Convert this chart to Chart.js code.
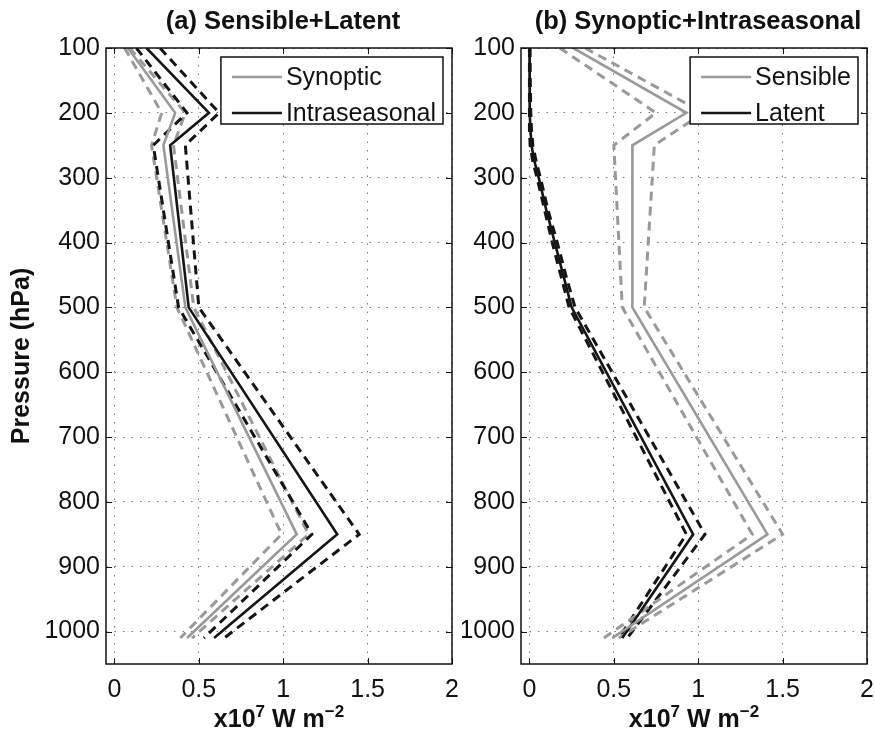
<!DOCTYPE html>
<html>
<head>
<meta charset="utf-8">
<script src="https://cdn.jsdelivr.net/npm/chart.js@4.4.0/dist/chart.umd.min.js"></script>
<style>
  html, body { margin: 0; padding: 0; background: #fff; }
  #wrap { position: relative; width: 875px; height: 732px; }
  #chart-a { position: absolute; left: 0; top: 0; }
  #chart-b { position: absolute; left: 462px; top: 0; }
</style>
</head>
<body>
<div id="wrap">
  <canvas id="chart-a" width="462" height="732"></canvas>
  <canvas id="chart-b" width="413" height="732"></canvas>
</div>
<script>
'use strict';

// ******* GLOBALS ********

let pressureTicks = [100, 200, 300, 400, 500, 600, 700, 800, 900, 1000];
let fluxTicks = [0, 0.5, 1, 1.5, 2];

// panel (a) levels (hPa)
let levelsA = [100, 200, 250, 500, 850, 1010];
let synopticMean = [0.08, 0.36, 0.29, 0.42, 1.08, 0.43];
let synopticLow = [0.06, 0.28, 0.22, 0.37, 0.99, 0.39];
let synopticHigh = [0.09, 0.42, 0.35, 0.47, 1.15, 0.46];
let intraMean = [0.19, 0.56, 0.33, 0.44, 1.32, 0.59];
let intraLow = [0.13, 0.43, 0.23, 0.38, 1.17, 0.53];
let intraHigh = [0.27, 0.62, 0.42, 0.50, 1.45, 0.65];

// panel (b) levels (hPa)
let levelsSensible = [100, 200, 250, 500, 850, 1010];
let sensibleMean = [0.26, 0.93, 0.61, 0.61, 1.41, 0.49];
let sensibleLow = [0.18, 0.75, 0.50, 0.55, 1.32, 0.44];
let sensibleHigh = [0.33, 1.03, 0.74, 0.68, 1.50, 0.53];

let levelsLatent = [100, 150, 200, 225, 250, 275, 300, 350, 400, 450, 500, 850, 1010];
let latentMean = [0.0, 0.0, 0.003, 0.006, 0.012, 0.03, 0.055, 0.10, 0.15, 0.20, 0.25, 0.97, 0.55];
let latentLow = [0.0, 0.0, 0.0, 0.0, 0.004, 0.02, 0.045, 0.09, 0.135, 0.185, 0.235, 0.93, 0.53];
let latentHigh = [0.004, 0.005, 0.008, 0.012, 0.02, 0.04, 0.065, 0.11, 0.165, 0.215, 0.27, 1.04, 0.58];

let grayColor = '#999999';
let blackColor = '#151515';
let fontFamily = '"Liberation Sans", Arial, Helvetica, sans-serif';

// ****** HELPER FUNCTIONS / UTILITIES ******

function profile(label, levels, values, color, dashed, inLegend){
  return {
    label: label,
    data: levels.map((p, i) => ({ x: values[i], y: p })),
    borderColor: color,
    borderWidth: dashed ? 3 : 2.6,
    borderDash: dashed ? [9, 6] : [],
    pointRadius: 0,
    showLine: true,
    tension: 0,
    inLegend: inLegend
  };
}

// frame, inward ticks, title, x label and boxed legend (matlab look)
let panelDecor = {
  id: 'panelDecor',
  afterDraw(chart, args, opts){
    let ctx = chart.ctx;
    let area = chart.chartArea;
    let xs = chart.scales.x;
    let ys = chart.scales.y;
    ctx.save();

    // ticks pointing in
    ctx.strokeStyle = '#111';
    ctx.lineWidth = 1;
    ctx.setLineDash([]);
    let tl = 6;
    ctx.beginPath();
    pressureTicks.forEach(v => {
      let py = Math.round(ys.getPixelForValue(v)) + 0.5;
      ctx.moveTo(area.left, py); ctx.lineTo(area.left + tl, py);
      ctx.moveTo(area.right, py); ctx.lineTo(area.right - tl, py);
    });
    fluxTicks.forEach(v => {
      let px = Math.round(xs.getPixelForValue(v)) + 0.5;
      ctx.moveTo(px, area.top); ctx.lineTo(px, area.top + tl);
      ctx.moveTo(px, area.bottom); ctx.lineTo(px, area.bottom - tl);
    });
    ctx.stroke();

    // box
    ctx.lineWidth = 1.5;
    ctx.strokeRect(area.left, area.top, area.right - area.left, area.bottom - area.top);

    // title
    ctx.fillStyle = '#111';
    ctx.font = 'bold 25.5px ' + fontFamily;
    ctx.textAlign = 'center';
    ctx.textBaseline = 'middle';
    ctx.fillText(opts.title, (area.left + area.right) / 2 + 4, 22);

    // x axis label with superscripts
    let parts = [
      { t: 'x10', sup: false }, { t: '7', sup: true },
      { t: ' W m', sup: false }, { t: '\u22122', sup: true }
    ];
    let bigFont = 'bold 25px ' + fontFamily;
    let smallFont = 'bold 17px ' + fontFamily;
    let total = 0;
    parts.forEach(p => {
      ctx.font = p.sup ? smallFont : bigFont;
      p.w = ctx.measureText(p.t).width;
      total += p.w;
    });
    let cx = (area.left + area.right) / 2 - total / 2;
    ctx.textAlign = 'left';
    ctx.textBaseline = 'alphabetic';
    parts.forEach(p => {
      ctx.font = p.sup ? smallFont : bigFont;
      ctx.fillText(p.t, cx, p.sup ? 717 : 727);
      cx += p.w;
    });

    // legend
    let items = chart.data.datasets.filter(d => d.inLegend);
    ctx.font = '25px ' + fontFamily;
    let textW = Math.max(...items.map(d => ctx.measureText(d.label).width));
    let sample = 50;
    let boxW = 11 + sample + 4 + textW + 7;
    let boxH = 67;
    let bx = area.right - 9 - boxW;
    let by = area.top + 9;
    ctx.fillStyle = '#fff';
    ctx.fillRect(bx, by, boxW, boxH);
    ctx.strokeStyle = '#111';
    ctx.lineWidth = 1.5;
    ctx.strokeRect(bx, by, boxW, boxH);
    items.forEach((d, i) => {
      let ry = by + 20 + i * 36;
      ctx.strokeStyle = d.borderColor;
      ctx.lineWidth = d.borderWidth;
      ctx.beginPath();
      ctx.moveTo(bx + 11, ry);
      ctx.lineTo(bx + 11 + sample, ry);
      ctx.stroke();
      ctx.fillStyle = '#111';
      ctx.textBaseline = 'middle';
      ctx.fillText(d.label, bx + 11 + sample + 4, ry + 1);
    });
    ctx.restore();
  }
};

function buildOptions(title, yWidth, rightPad, yTitle){
  return {
    responsive: false,
    animation: false,
    layout: { padding: { top: 48, right: rightPad, left: 0, bottom: 0 } },
    plugins: {
      legend: { display: false },
      tooltip: { enabled: false },
      panelDecor: { title: title }
    },
    scales: {
      x: {
        type: 'linear',
        min: -0.05,
        max: 2,
        afterBuildTicks: s => { s.ticks = fluxTicks.map(v => ({ value: v })); },
        afterFit: s => { s.height = 68; s.paddingLeft = 0; s.paddingRight = 0; },
        ticks: {
          padding: 11,
          color: '#111',
          font: { size: 25, family: fontFamily },
          callback: v => String(v)
        },
        grid: { color: '#777', lineWidth: 1, drawTicks: false },
        border: { display: false, dash: [1.5, 7] }
      },
      y: {
        type: 'linear',
        reverse: true,
        min: 100,
        max: 1050,
        afterBuildTicks: s => { s.ticks = pressureTicks.map(v => ({ value: v })); },
        afterFit: s => { s.width = yWidth; s.paddingTop = 0; s.paddingBottom = 0; },
        ticks: {
          padding: 6,
          color: '#111',
          font: { size: 25, family: fontFamily },
          callback: v => String(v)
        },
        grid: { color: '#777', lineWidth: 1, drawTicks: false },
        border: { display: false, dash: [1.5, 7] },
        title: {
          display: yTitle !== '',
          text: yTitle,
          color: '#111',
          font: { size: 25, weight: 'bold', family: fontFamily },
          padding: { top: 7, bottom: 0 }
        }
      }
    }
  };
}

// ***** EXECTUABLE CODE ******

let chartA = new Chart(document.getElementById('chart-a'), { //eslint-disable-line
  type: 'scatter',
  data: {
    datasets: [
      profile('Synoptic', levelsA, synopticMean, grayColor, false, true),
      profile('Intraseasonal', levelsA, intraMean, blackColor, false, true),
      profile('Intraseasonal low', levelsA, intraLow, blackColor, true, false),
      profile('Intraseasonal high', levelsA, intraHigh, blackColor, true, false),
      profile('Synoptic low', levelsA, synopticLow, grayColor, true, false),
      profile('Synoptic high', levelsA, synopticHigh, grayColor, true, false)
    ]
  },
  options: buildOptions('(a) Sensible+Latent', 106, 10, 'Pressure (hPa)'),
  plugins: [panelDecor]
});

let chartB = new Chart(document.getElementById('chart-b'), { //eslint-disable-line
  type: 'scatter',
  data: {
    datasets: [
      profile('Sensible', levelsSensible, sensibleMean, grayColor, false, true),
      profile('Latent', levelsLatent, latentMean, blackColor, false, true),
      profile('Sensible low', levelsSensible, sensibleLow, grayColor, true, false),
      profile('Sensible high', levelsSensible, sensibleHigh, grayColor, true, false),
      profile('Latent low', levelsLatent, latentLow, blackColor, true, false),
      profile('Latent high', levelsLatent, latentHigh, blackColor, true, false)
    ]
  },
  options: buildOptions('(b) Synoptic+Intraseasonal', 59, 8, ''),
  plugins: [panelDecor]
});
</script>
</body>
</html>
